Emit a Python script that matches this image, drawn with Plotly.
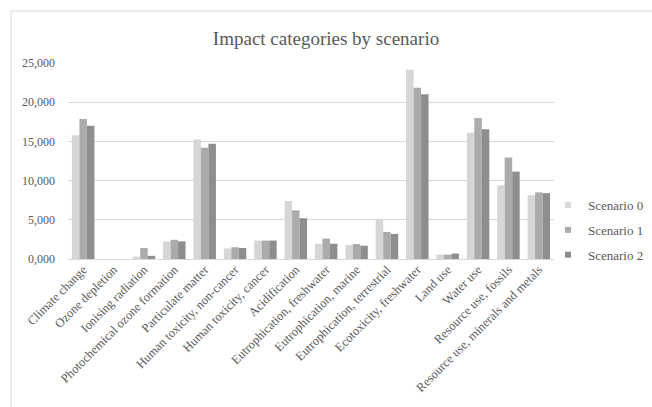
import plotly.graph_objects as go

categories = ["Climate change", "Ozone depletion", "Ionising radiation",
              "Photochemical ozone formation", "Particulate matter",
              "Human toxicity, non-cancer", "Human toxicity, cancer", "Acidification",
              "Eutrophication, freshwater", "Eutrophication, marine",
              "Eutrophication, terrestrial", "Ecotoxicity, freshwater", "Land use",
              "Water use", "Resource use, fossils", "Resource use, minerals and metals"]
scenario0 = [15.8, 0.0, 0.3, 2.25, 15.25, 1.35, 2.35, 7.4, 1.95, 1.8, 5.1, 24.15, 0.55, 16.1, 9.4, 8.15]
scenario1 = [17.85, 0.0, 1.4, 2.45, 14.2, 1.5, 2.35, 6.2, 2.6, 1.9, 3.45, 21.85, 0.55, 18.0, 12.95, 8.5]
scenario2 = [17.0, 0.0, 0.4, 2.25, 14.7, 1.4, 2.35, 5.2, 1.95, 1.7, 3.2, 21.0, 0.7, 16.55, 11.15, 8.4]
series_names = ["Scenario 0", "Scenario 1", "Scenario 2"]
colors = ["#d6d6d6", "#ababab", "#8e8e8e"]

font_family = "Liberation Serif"
grey = "#595959"

fig = go.Figure()
for name, vals, col in zip(series_names, [scenario0, scenario1, scenario2], colors):
    fig.add_trace(go.Bar(name=name, x=categories, y=vals, marker_color=col,
                         marker_line_width=0, showlegend=False))
# legend entries with small square swatches
for name, col in zip(series_names, colors):
    fig.add_trace(go.Scatter(name=name, x=[None], y=[None], mode="markers",
                             marker=dict(symbol="square", size=6, color=col),
                             legendgroup=name, showlegend=True))

fig.update_layout(
    template="none",
    width=652, height=407,
    margin=dict(l=68, r=98, t=63, b=148, autoexpand=False),
    paper_bgcolor="white", plot_bgcolor="white",
    separators=",.",
    barmode="group", bargap=0.26, bargroupgap=0,
    title=dict(text="Impact categories by scenario", x=0.5, xref="container",
               y=1 - 38 / 407, yref="container", yanchor="middle",
               font=dict(family=font_family, size=19, color=grey)),
    font=dict(family=font_family, color=grey),
    legend=dict(xref="container", yref="container", x=548 / 652, xanchor="left",
                y=1 - 230 / 407, yanchor="middle",
                font=dict(family=font_family, size=13, color=grey),
                tracegroupgap=5, itemwidth=30, bgcolor="rgba(0,0,0,0)"),
    showlegend=True,
)
fig.update_xaxes(tickangle=-45, tickfont=dict(family=font_family, size=12.5, color=grey),
                 showline=False, showgrid=False, ticks="", zeroline=False)
fig.update_yaxes(range=[0, 25], dtick=5, tickformat=".3f", showgrid=True,
                 gridcolor="#d9d9d9", gridwidth=1, zeroline=True, zerolinecolor="#d9d9d9",
                 zerolinewidth=1, showline=False, ticks="",
                 tickfont=dict(family=font_family, size=12, color=grey),
                 ticklabelstandoff=12)
# chart-area border (top and left edges visible in the frame)
fig.add_shape(type="rect", xref="paper", yref="paper",
              x0=(11 - 68) / 486, x1=(700 - 68) / 486,
              y0=(259 - 440) / 196, y1=(259 - 11) / 196,
              line=dict(color="#d9d9d9", width=1), layer="below")

fig.write_html("out.html")
